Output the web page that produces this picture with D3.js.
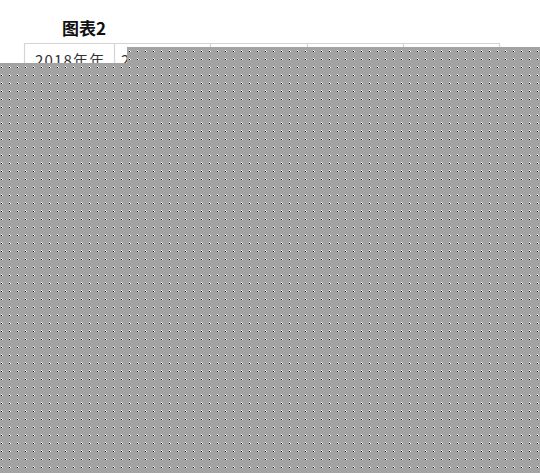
<!DOCTYPE html>
<html>
<head>
<meta charset="utf-8">
<script src="https://cdn.jsdelivr.net/npm/d3@7/dist/d3.min.js"></script>
<style>
  html, body { margin: 0; padding: 0; background: #fff; }
  svg { display: block; }
</style>
</head>
<body>
<script>
// ---- data ----
const chartTitle = "图表2";
const rowHeader = "2018年年";
const columnHeaders = ["2019年", "", "", ""];

// ---- layout ----
const W = 540, H = 473;
const svg = d3.select("body").append("svg").attr("width", W).attr("height", H);

const tableLeft = 24, tableTop = 43, firstColRight = 114, tableRight = 499;
const x = d3.scaleBand().domain(d3.range(columnHeaders.length)).range([firstColRight, tableRight]);

// pattern for the masking overlay
const defs = svg.append("defs");
const pat = defs.append("pattern")
  .attr("id", "mask").attr("patternUnits", "userSpaceOnUse")
  .attr("width", 8).attr("height", 8).attr("x", 0).attr("y", 0);
pat.append("rect").attr("width", 8).attr("height", 8).attr("fill", "#a6a6a6");
for (let i = 0; i < 8; i++) for (let j = 0; j < 8; j++) {
  if ((i + j) % 2 === 0) pat.append("rect").attr("x", i).attr("y", j).attr("width", 1).attr("height", 1).attr("fill", "#a0a0a0");
}
pat.append("rect").attr("x", 1).attr("y", 2).attr("width", 1).attr("height", 1).attr("fill", "#ffffff");
pat.append("rect").attr("x", 2).attr("y", 3).attr("width", 1).attr("height", 1).attr("fill", "#ffffff");
pat.append("rect").attr("x", 1).attr("y", 3).attr("width", 1).attr("height", 1).attr("fill", "#000000");

// title
svg.append("text")
  .attr("x", 62).attr("y", 35)
  .attr("font-family", "'Noto Sans CJK SC', sans-serif")
  .attr("font-weight", "bold").attr("font-size", 17)
  .attr("fill", "#111")
  .text(chartTitle);

// table grid
const grid = svg.append("g").attr("stroke", "#d4d4d4").attr("stroke-width", 1.2).attr("fill", "none");
grid.append("line").attr("x1", tableLeft).attr("x2", tableRight).attr("y1", tableTop + 0.5).attr("y2", tableTop + 0.5);
const edges = [tableLeft, firstColRight].concat(columnHeaders.map((d, i) => x(i) + x.bandwidth()));
grid.selectAll("line.v").data(edges).join("line").attr("class", "v")
  .attr("x1", d => Math.round(d) + 0.5).attr("x2", d => Math.round(d) + 0.5)
  .attr("y1", tableTop).attr("y2", H);

// header texts
svg.append("text")
  .attr("x", 35).attr("y", 66)
  .attr("font-family", "'Noto Sans CJK SC', sans-serif")
  .attr("font-size", 15).attr("letter-spacing", 1.2)
  .attr("fill", "#333")
  .text(rowHeader);

svg.selectAll("text.col").data(columnHeaders).join("text").attr("class", "col")
  .attr("x", (d, i) => x(i) + 7).attr("y", 66)
  .attr("font-family", "'Noto Sans CJK SC', sans-serif")
  .attr("font-size", 15).attr("fill", "#333")
  .text(d => d);

// masking overlay
svg.append("path")
  .attr("d", `M127,47H${W}V${H}H0V63H127Z`)
  .attr("fill", "url(#mask)");
</script>
</body>
</html>
